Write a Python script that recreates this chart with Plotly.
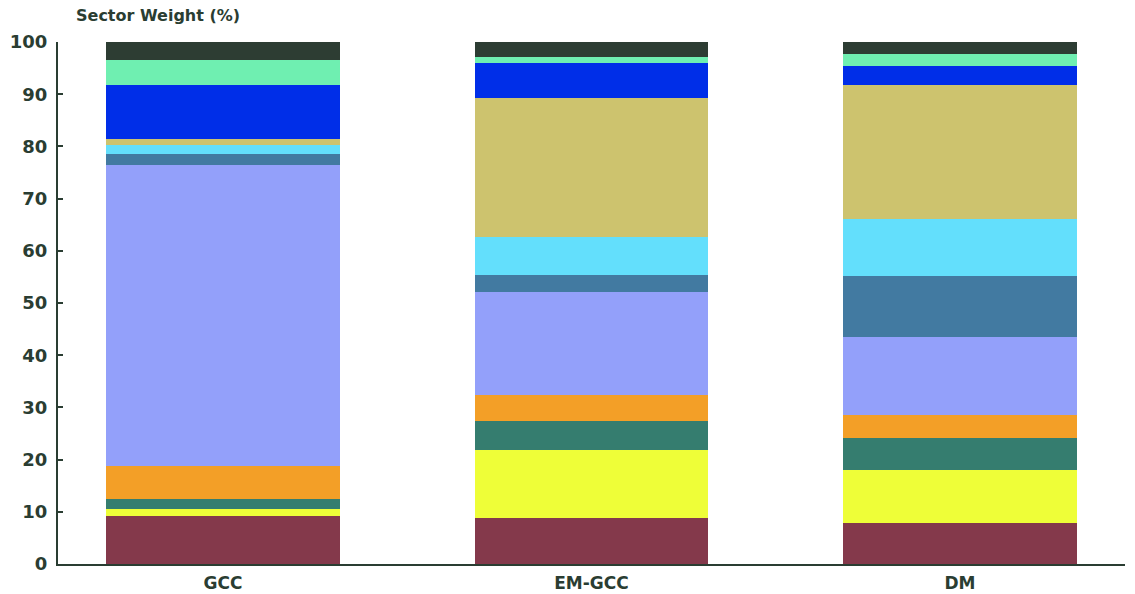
import plotly.graph_objects as go

# Regions compared
regions = ["GCC", "EM-GCC", "DM"]

# Sector weights (%) per region, stacked bottom to top
communication_services = [9.2, 8.9, 7.8]
consumer_discretionary = [1.4, 13.0, 10.2]
consumer_staples = [1.9, 5.5, 6.2]
energy = [6.3, 4.9, 4.4]
financials = [57.6, 19.9, 14.8]
health_care = [2.1, 3.2, 11.8]
industrials = [1.7, 7.2, 10.9]
information_technology = [1.2, 26.6, 25.6]
materials = [10.3, 6.7, 3.7]
real_estate = [4.8, 1.2, 2.3]
utilities = [3.5, 2.9, 2.3]

y_ticks = [0, 10, 20, 30, 40, 50, 60, 70, 80, 90, 100]

series = [
    ("Communication Services", communication_services, "#84394b"),
    ("Consumer Discretionary", consumer_discretionary, "#eefe38"),
    ("Consumer Staples", consumer_staples, "#357d6f"),
    ("Energy", energy, "#f39f27"),
    ("Financials", financials, "#93a0fa"),
    ("Health Care", health_care, "#427aa1"),
    ("Industrials", industrials, "#63dffc"),
    ("Information Technology", information_technology, "#cdc36e"),
    ("Materials", materials, "#002ee8"),
    ("Real Estate", real_estate, "#6fefb1"),
    ("Utilities", utilities, "#2d3d33"),
]

INK = "#2a3d32"
FONT = "DejaVu Sans"

fig = go.Figure()
for name, values, color in series:
    fig.add_trace(go.Bar(
        x=list(range(len(regions))),
        y=values,
        name=name,
        width=0.635,
        marker=dict(color=color, line=dict(width=0)),
    ))

fig.update_layout(
    barmode="stack",
    width=1135,
    height=594,
    margin=dict(l=58, r=10, t=42, b=30, autoexpand=False),
    paper_bgcolor="white",
    plot_bgcolor="white",
    showlegend=False,
    bargap=0,
    font=dict(family=FONT, color=INK),
)

fig.update_xaxes(
    range=[-0.448, 2.448],
    tickmode="array",
    tickvals=list(range(len(regions))),
    ticktext=regions,
    showgrid=False,
    zeroline=False,
    showline=True,
    linecolor=INK,
    linewidth=2,
    ticks="",
    ticklabelstandoff=3,
    tickfont=dict(family=FONT, size=17, color=INK, weight="bold"),
    automargin=False,
)

fig.update_yaxes(
    range=[0, 100],
    tickmode="array",
    tickvals=y_ticks,
    showgrid=False,
    zeroline=False,
    showline=True,
    linecolor=INK,
    linewidth=2,
    ticks="inside",
    ticklen=5,
    tickwidth=1.5,
    tickcolor=INK,
    ticklabelstandoff=5,
    tickfont=dict(family=FONT, size=18, color=INK, weight="bold"),
    automargin=False,
)

fig.add_annotation(
    text="Sector Weight (%)",
    xref="paper", yref="paper",
    x=0.015, y=1.05,
    xanchor="left", yanchor="middle",
    showarrow=False,
    font=dict(family=FONT, size=16, color=INK, weight="bold"),
)

fig.write_html("out.html")
